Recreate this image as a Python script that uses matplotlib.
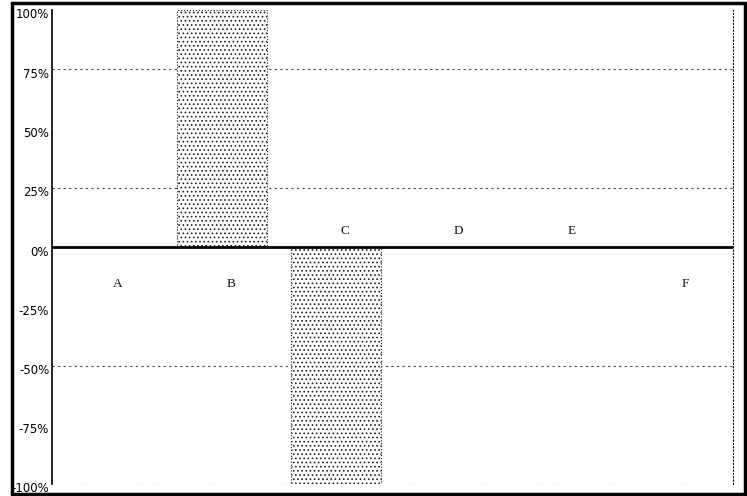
import matplotlib
matplotlib.use("Agg")
import matplotlib.pyplot as plt
from matplotlib.patches import Rectangle
from matplotlib.transforms import ScaledTranslation

categories = ["A", "B", "C", "D", "E", "F"]
values = [0.0, 1.0, -1.0, 0.0, 0.0, 0.0]
tick_values = [1.0, 0.75, 0.5, 0.25, 0.0, -0.25, -0.5, -0.75, -1.0]
tick_labels = ["100%", "75%", "50%", "25%", "0%", "-25%", "-50%", "-75%", "-100%"]
grid_values = [0.75, 0.25, -0.5, -1.0]
label_side = [-1, -1, 1, 1, 1, -1]

plt.rcParams["hatch.linewidth"] = 0.7
W, H = 747, 496
fig = plt.figure(figsize=(W / 100, H / 100), dpi=100)
ax = fig.add_axes([52 / W, 1 - 484 / H, (733 - 52) / W, (484 - 10) / H])

x = list(range(len(categories)))
ax.bar(x, values, width=0.79, color="white", edgecolor="#222222",
       hatch="....", linewidth=0.8, linestyle=":", zorder=2)

for g in grid_values:
    ax.axhline(g, color="#444444", lw=0.8, ls=(0, (2, 3)), zorder=1)
ax.axhline(0, color="black", lw=2.0, zorder=3)

for i, c in enumerate(categories):
    yoff = 0.068 if label_side[i] > 0 else -0.155
    ax.text(i + 0.08, yoff, c, ha="center", va="center", fontsize=9.5,
            family=["Liberation Serif", "DejaVu Serif"], color="#111111")

ax.set_xlim(-0.5, len(categories) - 0.5)
ax.set_ylim(-1.0, 1.0)
ax.set_xticks([])
ax.set_yticks(tick_values)
ax.set_yticklabels(tick_labels, family=["Liberation Sans Narrow", "DejaVu Sans"], fontsize=8.5)
ax.tick_params(axis="y", length=0, pad=2)
shift = ScaledTranslation(0, -5 / 100, fig.dpi_scale_trans)
for lab in ax.get_yticklabels():
    lab.set_verticalalignment("center")
    lab.set_transform(lab.get_transform() + shift)

ax.spines["top"].set_visible(False)
ax.spines["bottom"].set_visible(False)
ax.spines["left"].set_linewidth(1.2)
ax.spines["left"].set_linestyle((0, (6, 1)))
ax.spines["right"].set_linewidth(0.8)
ax.spines["right"].set_linestyle((0, (1, 2)))

fig.patches.append(Rectangle((12 / W, 1 - 494 / H), (745 - 12) / W, (494 - 3) / H,
                             transform=fig.transFigure, fill=False,
                             edgecolor="black", lw=2.5))

fig.savefig("out.png", dpi=100)
